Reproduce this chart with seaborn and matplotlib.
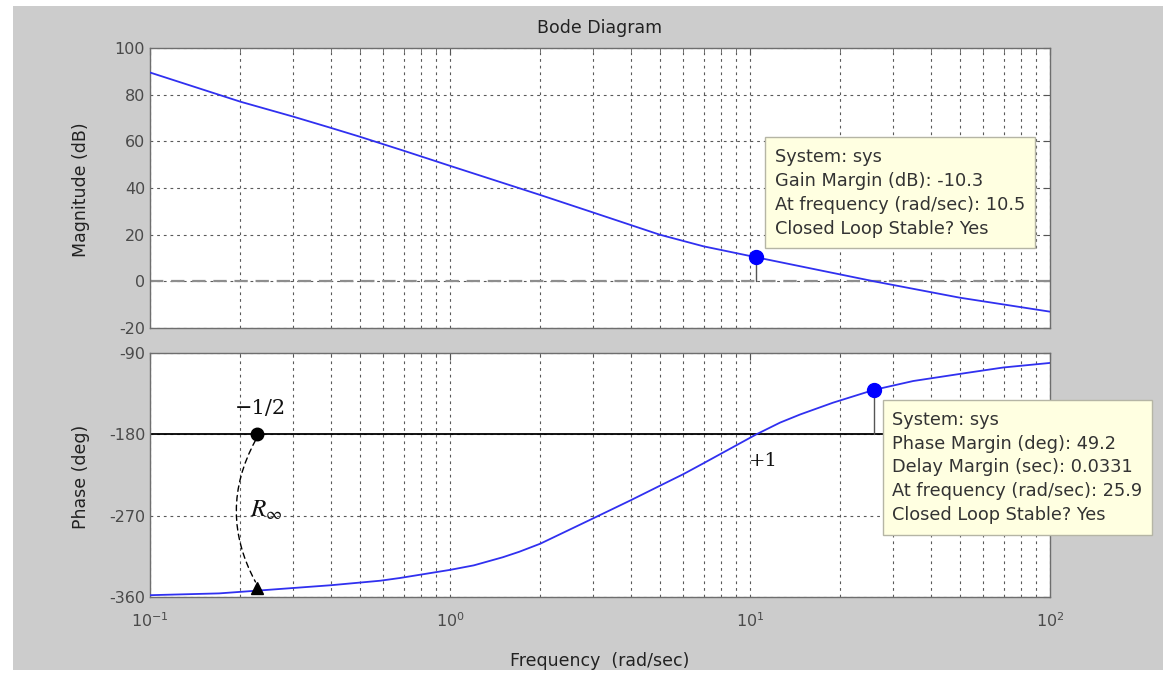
import matplotlib
matplotlib.use("Agg")
import matplotlib.pyplot as plt
from matplotlib.patches import Rectangle, FancyArrowPatch
from matplotlib.ticker import LogLocator, NullFormatter
import seaborn as sns

# ---- data -------------------------------------------------------------
mag_freq = [0.1, 0.2, 0.3, 0.4, 0.5, 0.7, 1.0, 2.0, 3.0, 5.0, 7.0, 10.5, 25.9, 50.0, 100.0]
mag_db = [89.5, 77.0, 70.6, 65.8, 62.0, 56.0, 49.5, 37.0, 29.5, 20.0, 15.0, 10.3, 0.0, -7.0, -13.0]

phase_freq = [0.1, 0.17, 0.227, 0.4, 0.585, 0.68, 1.0, 1.2, 1.5, 1.7, 2.0, 3.0, 4.0, 5.0, 6.0, 7.0,
              10.5, 12.6, 14.7, 18.9, 25.9, 35.0, 52.8, 70.0, 100.0]
phase_deg = [-358, -356, -353, -347, -342, -339, -330, -325, -316, -310, -301, -273, -253, -237,
             -224, -212, -180, -167, -158, -145, -130.8, -121, -112, -106, -101]

gm_db = -10.3          # gain margin
gm_freq = 10.5         # phase crossover frequency
pm_deg = 49.2          # phase margin
pm_freq = 25.9         # gain crossover frequency
delay_margin = 0.0331

gm_lines = ["System: sys",
            f"Gain Margin (dB): {gm_db}",
            f"At frequency (rad/sec): {gm_freq}",
            "Closed Loop Stable? Yes"]
pm_lines = ["System: sys",
            f"Phase Margin (deg): {pm_deg}",
            f"Delay Margin (sec): {delay_margin}",
            f"At frequency (rad/sec): {pm_freq}",
            "Closed Loop Stable? Yes"]

x_ticks = [0.1, 1, 10, 100]
x_ticklabels = [r"$10^{-1}$", r"$10^{0}$", r"$10^{1}$", r"$10^{2}$"]
mag_ticks = [-20, 0, 20, 40, 60, 80, 100]
phase_ticks = [-360, -270, -180, -90]

# R_infinity path marks
r_freq = 0.227
r_top = -180
r_bottom = -350

# ---- style ------------------------------------------------------------
sns.set_style("white")
plt.rcParams["font.family"] = ["DejaVu Sans"]
plt.rcParams["mathtext.fontset"] = "dejavusans"
plt.rcParams["axes.unicode_minus"] = False

W, H = 1165, 677
fig = plt.figure(figsize=(W / 100, H / 100), dpi=100, facecolor="white")
fig.patches.append(Rectangle((13 / W, 1 - 670 / H), (1163 - 13) / W, (670 - 6) / H,
                             transform=fig.transFigure, facecolor="#cccccc",
                             edgecolor="none", zorder=-10))

ax1 = fig.add_axes([150 / W, 1 - 328 / H, 900 / W, 280 / H])
ax2 = fig.add_axes([150 / W, 1 - 597 / H, 900 / W, 244 / H])

grid_kw = dict(color="#5a5a5a", lw=0.8, ls=(0, (2.5, 3.5)))
for ax in (ax1, ax2):
    ax.set_facecolor("white")
    ax.set_xscale("log")
    ax.set_xlim(0.1, 100)
    ax.xaxis.set_major_locator(LogLocator(base=10))
    ax.xaxis.set_minor_locator(LogLocator(base=10, subs=range(2, 10)))
    ax.xaxis.set_minor_formatter(NullFormatter())
    for s in ax.spines.values():
        s.set_color("#6e6e6e")
        s.set_linewidth(1.0)
    ax.tick_params(which="both", direction="in", top=True, right=True,
                   color="#555555", labelcolor="#4a4a4a", labelsize=11.5)
    ax.tick_params(which="major", length=5)
    ax.tick_params(which="minor", length=3)
    ax.grid(True, which="both", axis="x", **grid_kw)
    ax.grid(True, which="major", axis="y", **grid_kw)
    ax.set_axisbelow(True)
    ax.set_xlabel("")
    ax.set_ylabel("")

# ---- magnitude --------------------------------------------------------
ax1.set_ylim(-20, 100)
ax1.set_yticks(mag_ticks)
ax1.set_xticks(x_ticks)
ax1.set_xticklabels([])
ax1.axhline(0, color="#8e8e8e", lw=1.6, ls=(0, (6, 3.5)), zorder=2)
sns.lineplot(x=mag_freq, y=mag_db, ax=ax1, color="#3030f0", lw=1.3, zorder=3)
ax1.plot([gm_freq, gm_freq], [0, -gm_db], color="#555555", lw=1.0, zorder=3)
ax1.plot([gm_freq], [-gm_db], "o", color="#0000ff", ms=10, zorder=4)

# ---- phase ------------------------------------------------------------
ax2.set_ylim(-360, -90)
ax2.set_yticks(phase_ticks)
ax2.set_xticks(x_ticks)
ax2.set_xticklabels(x_ticklabels)
ax2.tick_params(axis="x", pad=10)
ax2.axhline(-180, color="black", lw=1.3, zorder=2)
sns.lineplot(x=phase_freq, y=phase_deg, ax=ax2, color="#3030f0", lw=1.3, zorder=3)
ax2.plot([pm_freq, pm_freq], [-180, -180 + pm_deg], color="#555555", lw=1.0, zorder=3)
ax2.plot([pm_freq], [-180 + pm_deg], "o", color="#0000ff", ms=10, zorder=4)

ax2.plot([r_freq], [r_top], "o", color="black", ms=9, zorder=5)
ax2.plot([r_freq], [r_bottom], "^", color="black", ms=9, zorder=5)
arc = FancyArrowPatch((r_freq, r_top - 4), (r_freq, r_bottom + 4),
                      arrowstyle="-", connectionstyle="arc3,rad=0.28",
                      linestyle=(0, (4, 3)), color="black", lw=1.0, zorder=5)
ax2.add_patch(arc)
ax2.text(0.234, -151, "\u22121/2", ha="center", va="center", fontsize=15,
         family="DejaVu Serif", color="#111111")
ax2.text(0.245, -264, r"$R_\infty$", ha="center", va="center", fontsize=18,
         color="#111111", math_fontfamily="stix")
ax2.text(11.1, -209, "+1", ha="center", va="center", fontsize=14,
         family="DejaVu Serif", color="#111111")

# ---- data tip boxes ---------------------------------------------------
def data_tip(ax, x0, y0, w, h, tx, ty, dy, lines):
    ax.add_patch(Rectangle((x0, y0), w, h, transform=ax.transAxes, facecolor="#ffffe1",
                           edgecolor="#b5b5a5", lw=1.0, zorder=8, clip_on=False))
    for i, line in enumerate(lines):
        ax.text(tx, ty - i * dy, line, transform=ax.transAxes, ha="left", va="center",
                fontsize=12.8, color="#333333", zorder=9, clip_on=False)

data_tip(ax1, 0.683, 0.286, 0.300, 0.396, 0.694, 0.611, 0.0864, gm_lines)
data_tip(ax2, 0.814, 0.254, 0.299, 0.553, 0.824, 0.7254, 0.0971, pm_lines)

# ---- titles and labels ------------------------------------------------
lab_kw = dict(ha="center", va="center", fontsize=12.5, color="#222222")
fig.text(600 / W, 1 - 28 / H, "Bode Diagram", **lab_kw)
fig.text(81 / W, 1 - 190 / H, "Magnitude (dB)", rotation=90, **lab_kw)
fig.text(81 / W, 1 - 477 / H, "Phase (deg)", rotation=90, **lab_kw)
fig.text(600 / W, 1 - 661 / H, "Frequency  (rad/sec)", **lab_kw)

fig.savefig("out.png", dpi=100, facecolor=fig.get_facecolor())
